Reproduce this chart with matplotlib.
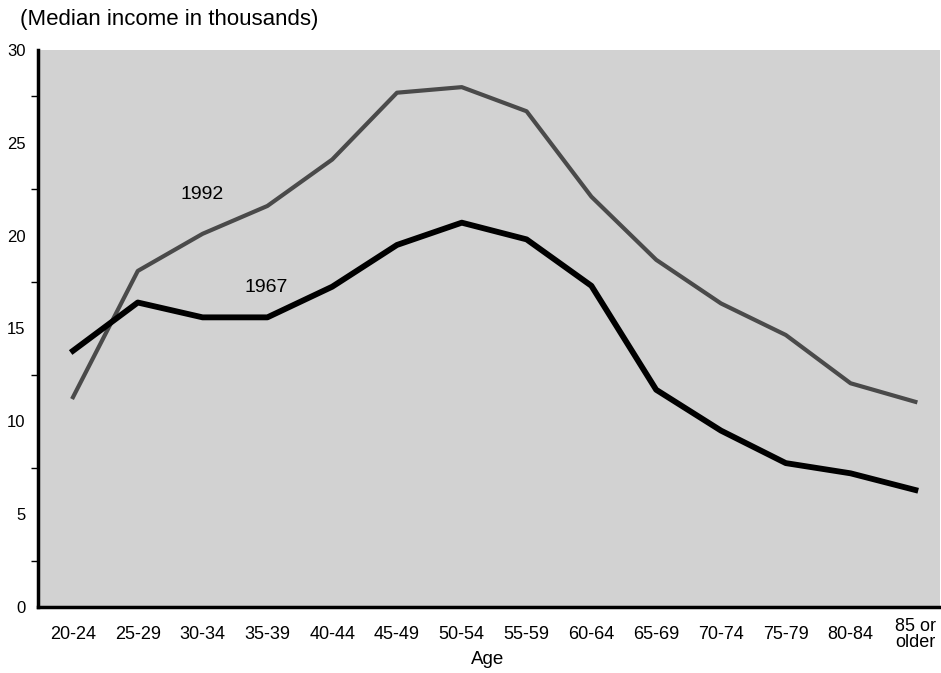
import matplotlib.pyplot as plt
import numpy as np

plt.rcParams["font.family"] = ["Liberation Sans", "DejaVu Sans"]

ages = ['20-24', '25-29', '30-34', '35-39', '40-44', '45-49', '50-54',
        '55-59', '60-64', '65-69', '70-74', '75-79', '80-84', '85 or\nolder']
inc_1992 = [11.3, 18.1, 20.1, 21.6, 24.1, 27.7, 28.0, 26.7, 22.1, 18.7, 16.35, 14.65, 12.05, 11.05]
inc_1967 = [13.8, 16.4, 15.6, 15.6, 17.25, 19.5, 20.7, 19.8, 17.3, 11.7, 9.5, 7.75, 7.2, 6.3]
yticks = [0, 5, 10, 15, 20, 25, 30]

fig = plt.figure(figsize=(9.41, 6.73), dpi=100)
ax = fig.add_axes([38 / 941, 66 / 673, 902 / 941, 557 / 673])
ax.set_facecolor('#d2d2d2')

x = np.arange(len(ages))
ax.plot(x, inc_1992, color='#4a4a4a', linewidth=3.0, solid_joinstyle='round')
ax.plot(x, inc_1967, color='black', linewidth=4.2, solid_joinstyle='round')

ax.text(2.0, 22.2, '1992', fontsize=14, ha='center', va='center')
ax.text(2.98, 17.2, '1967', fontsize=14, ha='center', va='center')

ax.set_xlim(-0.54, 13.38)
ax.set_ylim(0, 30)
ax.set_xticks(x)
ax.set_xticklabels(ages, fontsize=13, va='center', linespacing=0.95)
ax.tick_params(axis='x', length=0, pad=20)
ax.set_yticks(yticks)
ax.set_yticklabels([str(v) for v in yticks], fontsize=12)
ax.set_yticks(np.arange(2.5, 30, 5), minor=True)
ax.tick_params(axis='y', which='major', length=0, pad=9)
ax.tick_params(axis='y', which='minor', length=5, width=1, direction='out')

for s in ['top', 'right']:
    ax.spines[s].set_visible(False)
ax.spines['left'].set_linewidth(2.5)
ax.spines['bottom'].set_linewidth(2.5)

fig.text(20 / 941, 1 - 20 / 673, '(Median income in thousands)', fontsize=16, ha='left', va='center')
fig.text(488 / 941, 1 - 660 / 673, 'Age', fontsize=13.5, ha='center', va='center')

plt.savefig('out.png', dpi=100)
